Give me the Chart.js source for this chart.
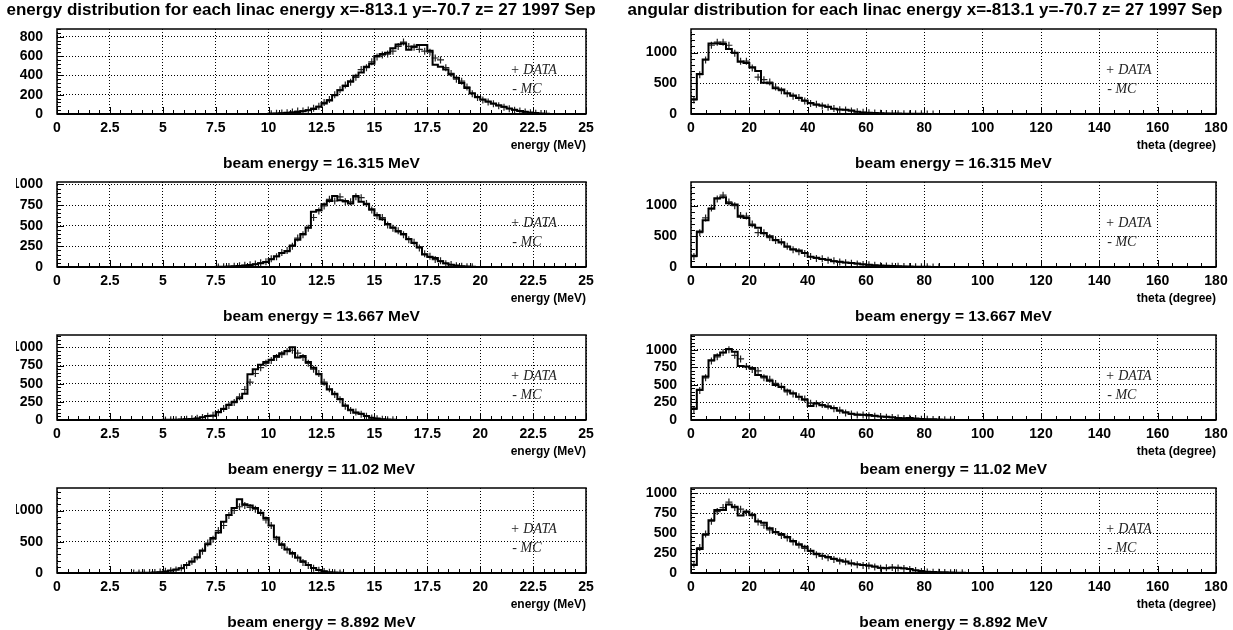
<!DOCTYPE html>
<html lang="en">
<head>
<meta charset="UTF-8">
<title>linac energy and angular distributions</title>
<style>
  body { margin: 0; background: #fff; }
  #wrap { position: relative; width: 1233px; height: 630px; overflow: hidden; }
  #wrap canvas { position: absolute; }
</style>
</head>
<body>
<div id="wrap"></div>

<script src="https://cdn.jsdelivr.net/npm/chart.js"></script>
<script>
// ---- data ----
const beamEnergies = ['16.315', '13.667', '11.02', '8.892'];

// energy histograms: 0.25 MeV bins, first bin starts at energyStart
const energyStart = [10.0, 7.5, 5.0, 3.5];
const mcE1 = [4,6,9,12,16,22,28,38,52,75,110,140,195,245,290,340,395,430,490,520,600,620,635,680,720,730,665,700,715,715,655,510,490,460,410,375,320,270,215,175,150,130,110,90,75,58,45,32,24,16,10,6,3];
const dataE1 = [2,7,10,14,20,30,32,42,60,80,120,150,200,250,300,330,380,460,480,540,590,610,620,650,700,745,700,690,670,650,640,580,560,480,420,360,340,280,210,170,145,125,105,85,70,55,40,30,20,14,8,5,2];
const mcE2 = [2,4,6,8,12,18,24,32,45,60,95,130,170,190,260,330,400,480,670,690,760,800,860,810,800,770,860,790,760,700,630,580,520,480,430,400,340,290,240,150,120,110,70,45,28,18,10,6,3];
const dataE2 = [1,3,5,9,14,20,28,36,50,65,100,125,175,200,250,350,390,470,600,680,740,820,800,850,790,790,850,840,770,690,620,600,510,470,440,390,330,300,230,160,130,90,75,40,30,15,8,4,2];
const mcE3 = [2,3,5,7,10,14,20,38,55,60,110,150,210,250,300,360,630,700,760,800,830,880,920,950,1000,860,880,800,720,630,500,420,360,290,200,140,100,85,55,30,20,12,6,3];
const dataE3 = [1,2,4,8,12,16,24,35,50,65,100,160,200,240,320,420,520,640,720,780,820,860,900,940,960,920,860,780,700,640,520,430,350,280,190,130,110,80,50,28,18,10,5,2];
const mcE4 = [2,3,4,6,9,14,25,40,55,75,130,180,250,360,460,560,650,820,930,1040,1180,1100,1080,1040,960,880,760,570,460,380,320,250,190,130,80,50,28,14,7,3];
const dataE4 = [1,2,4,7,10,16,28,38,50,80,120,190,260,350,480,540,680,760,920,1000,1060,1080,1050,1020,970,850,760,540,440,370,300,240,170,120,75,45,25,12,5,2];

// angular histograms: 2 degree bins starting at 0
const mcT1 = [240,650,890,1150,1150,1140,1060,1000,850,830,760,700,510,500,420,400,340,300,260,220,180,150,140,120,85,75,70,55,35,25,22,15,12,10,8,7,6,5,4,3,2,2];
const dataT1 = [230,640,880,1120,1170,1170,1120,990,860,860,750,600,560,520,440,380,330,290,270,210,170,160,130,110,90,70,65,50,38,28,20,16,12,9,8,6,5,4,3,3,2,1];
const mcT2 = [185,580,760,950,1120,1135,1040,1020,820,800,680,640,550,500,440,400,330,290,270,230,165,150,130,120,95,85,75,65,55,45,35,30,25,20,15,12,10,8,6,5,4,2,2];
const dataT2 = [170,560,800,960,1110,1170,1060,1000,840,830,700,560,560,480,430,410,340,280,250,220,170,140,135,110,100,80,70,60,50,40,35,28,22,18,14,11,9,7,6,4,3,2,1];
const mcT3 = [165,430,620,850,920,960,1010,970,770,760,740,640,620,560,500,470,420,380,330,290,200,240,210,190,170,130,110,90,80,75,70,60,50,45,40,30,25,30,22,15,12,10,8,3,3];
const dataT3 = [150,420,600,840,900,960,1000,920,870,760,720,700,600,580,520,480,400,370,330,300,240,230,220,200,160,140,100,85,70,70,60,55,50,40,35,30,22,25,20,12,10,8,5,2,2];
const mcT4 = [100,300,480,660,790,790,860,830,720,770,730,650,630,560,510,490,450,400,360,330,280,240,215,200,180,160,145,120,110,100,95,80,65,60,70,65,60,50,35,25,15,12,10,8,5,3,3];
const dataT4 = [110,320,490,650,770,820,890,820,800,760,720,640,600,540,520,470,440,390,350,310,270,230,210,190,170,150,140,125,105,95,90,75,60,65,68,62,55,45,30,20,14,10,8,6,4,2,2];

// axis ranges and tick steps
const eRangeY = [880, 1030, 1170, 1360];
const eMajorY = [200, 250, 250, 500];
const eMinorY = [40, 50, 50, 100];
const tRangeY = [1385, 1385, 1210, 1066];
const tMajorY = [500, 500, 250, 250];
const tMinorY = [100, 100, 50, 50];

Chart.defaults.font.family = '"Liberation Sans", Arial, Helvetica, sans-serif';
Chart.defaults.color = '#000';

const isMajor = (v, m) => Math.abs(v / m - Math.round(v / m)) < 1e-6;

// histogram outline as left-edge points, closed to zero at both ends
function histPoints(start, w, vals, xMax) {
  const pts = [{x: 0, y: 0}];
  vals.forEach((v, i) => pts.push({x: start + i * w, y: v}));
  pts.push({x: start + vals.length * w, y: 0});
  pts.push({x: xMax, y: 0});
  return pts;
}
function centerPoints(start, w, vals) {
  return vals.map((v, i) => ({x: start + (i + 0.5) * w, y: v}));
}

// frame, inner tick marks, page title and the DATA / MC note, PAW style
const pawPlugin = {
  id: 'paw',
  afterDraw(chart, args, opts) {
    const {ctx, chartArea: a, scales: {x, y}} = chart;
    ctx.save();
    ctx.strokeStyle = '#000';
    ctx.lineWidth = 1;
    ctx.beginPath();
    x.ticks.forEach(t => {
      const px = Math.round(x.getPixelForValue(t.value)) + 0.5;
      ctx.moveTo(px, a.bottom);
      ctx.lineTo(px, a.bottom - (isMajor(t.value, opts.xMajor) ? 7 : 4));
    });
    y.ticks.forEach(t => {
      const py = Math.round(y.getPixelForValue(t.value)) + 0.5;
      ctx.moveTo(a.left, py);
      ctx.lineTo(a.left + (isMajor(t.value, opts.yMajor) ? 7 : 4), py);
    });
    ctx.stroke();
    ctx.lineWidth = 1.5;
    ctx.strokeRect(a.left, a.top, a.right - a.left, a.bottom - a.top);
    ctx.lineWidth = 2;
    ctx.beginPath();
    ctx.moveTo(a.left, a.bottom);
    ctx.lineTo(a.right, a.bottom);
    ctx.stroke();

    const ds = chart.data.datasets;
    const h = a.bottom - a.top;
    const lx = a.left + opts.noteX * (a.right - a.left);
    ctx.font = 'italic 14px "Liberation Serif", "Times New Roman", serif';
    ctx.fillStyle = '#222';
    ctx.textBaseline = 'middle';
    ctx.fillText('+ ' + ds[1].label, lx, a.top + 0.49 * h);
    ctx.fillText('- ' + ds[0].label, lx + 2, a.top + 0.71 * h);

    if (opts.title) {
      ctx.font = 'bold 17px "Liberation Sans", Arial, Helvetica, sans-serif';
      ctx.fillStyle = '#000';
      ctx.textAlign = 'center';
      ctx.fillText(opts.title, opts.titleX, 10);
    }
    ctx.restore();
  }
};

function makePanel(p) {
  const wrap = document.getElementById('wrap');
  const c = document.createElement('canvas');
  c.width = p.col ? 617 : 600;
  c.height = 171;
  c.style.left = (p.col ? 616 : 0) + 'px';
  c.style.top = (153 * p.row) + 'px';
  wrap.appendChild(c);

  const gridColor = m => ctx => (ctx.tick && isMajor(ctx.tick.value, m)) ? '#000' : 'rgba(0,0,0,0)';
  const tickFont = {size: 14, weight: 'bold'};

  new Chart(c, {
    type: 'line',
    data: {
      datasets: [{
        label: 'MC',
        data: histPoints(p.start, p.bin, p.mc, p.xMax),
        stepped: 'before',
        borderColor: '#000',
        borderWidth: 2,
        pointRadius: 0,
        fill: false
      }, {
        label: 'DATA',
        data: centerPoints(p.start, p.bin, p.data),
        showLine: false,
        pointStyle: 'cross',
        pointRadius: 3.5,
        pointBorderWidth: 1.2,
        borderColor: '#222',
        backgroundColor: '#222'
      }]
    },
    options: {
      responsive: false,
      animation: false,
      devicePixelRatio: 1,
      layout: {
        padding: {left: p.col ? 18 : 16, right: p.col ? 17 : 14, top: 29, bottom: 0}
      },
      scales: {
        x: {
          type: 'linear', position: 'bottom', min: 0, max: p.xMax,
          ticks: {
            stepSize: p.xMinor, autoSkip: false, maxRotation: 0, padding: 6, font: tickFont,
            includeBounds: false,
            callback: v => isMajor(v, p.xMajor) ? String(Math.round(v * 100) / 100) : ''
          },
          grid: {color: gridColor(p.xMajor), lineWidth: 1, drawTicks: false},
          border: {display: false, dash: [1, 2]},
          title: {
            display: true, text: p.xTitle, align: 'end',
            font: {size: 12, weight: 'bold'}, padding: {top: 0, bottom: 1}
          },
          afterFit: s => { s.height = 40; s.paddingLeft = 0; s.paddingRight = 0; }
        },
        x2: {
          type: 'linear', position: 'bottom', min: 0, max: 1, weight: 1,
          ticks: {display: false},
          grid: {display: false, drawTicks: false},
          border: {display: false},
          title: {
            display: true, text: 'beam energy = ' + p.beam + ' MeV',
            font: {size: 15.5, weight: 'bold', lineHeight: 1}, padding: {top: 0, bottom: 0}
          },
          afterFit: s => { s.height = 17; s.paddingLeft = 0; s.paddingRight = 0; }
        },
        y: {
          min: 0, max: p.yMax,
          ticks: {
            stepSize: p.yMinor, autoSkip: false, padding: 14, font: tickFont,
            includeBounds: false,
            callback: v => isMajor(v, p.yMajor) ? String(v) : ''
          },
          grid: {color: gridColor(p.yMajor), lineWidth: 1, drawTicks: false},
          border: {display: false, dash: [1, 2]},
          afterFit: s => { s.width = p.col ? 57 : 41; s.paddingTop = 0; s.paddingBottom = 0; }
        }
      },
      plugins: {
        legend: {display: false},
        tooltip: {enabled: false},
        paw: {
          xMajor: p.xMajor, yMajor: p.yMajor, noteX: p.noteX,
          title: p.row === 0 ? p.title : '', titleX: p.col ? 309 : 301
        }
      }
    },
    plugins: [pawPlugin]
  });
}

const mcE = [mcE1, mcE2, mcE3, mcE4], dataE = [dataE1, dataE2, dataE3, dataE4];
const mcT = [mcT1, mcT2, mcT3, mcT4], dataT = [dataT1, dataT2, dataT3, dataT4];

for (let r = 0; r < 4; r++) {
  makePanel({
    col: 0, row: r, start: energyStart[r], bin: 0.25, mc: mcE[r], data: dataE[r],
    xMax: 25, xMajor: 2.5, xMinor: 0.5, yMax: eRangeY[r], yMajor: eMajorY[r], yMinor: eMinorY[r],
    xTitle: 'energy (MeV)', beam: beamEnergies[r], noteX: 0.857,
    title: 'energy distribution for each linac energy x=-813.1 y=-70.7 z= 27 1997 Sep'
  });
  makePanel({
    col: 1, row: r, start: 0, bin: 2, mc: mcT[r], data: dataT[r],
    xMax: 180, xMajor: 20, xMinor: 5, yMax: tRangeY[r], yMajor: tMajorY[r], yMinor: tMinorY[r],
    xTitle: 'theta (degree)', beam: beamEnergies[r], noteX: 0.789,
    title: 'angular distribution for each linac energy x=-813.1 y=-70.7 z= 27 1997 Sep'
  });
}
</script>
</body>
</html>
